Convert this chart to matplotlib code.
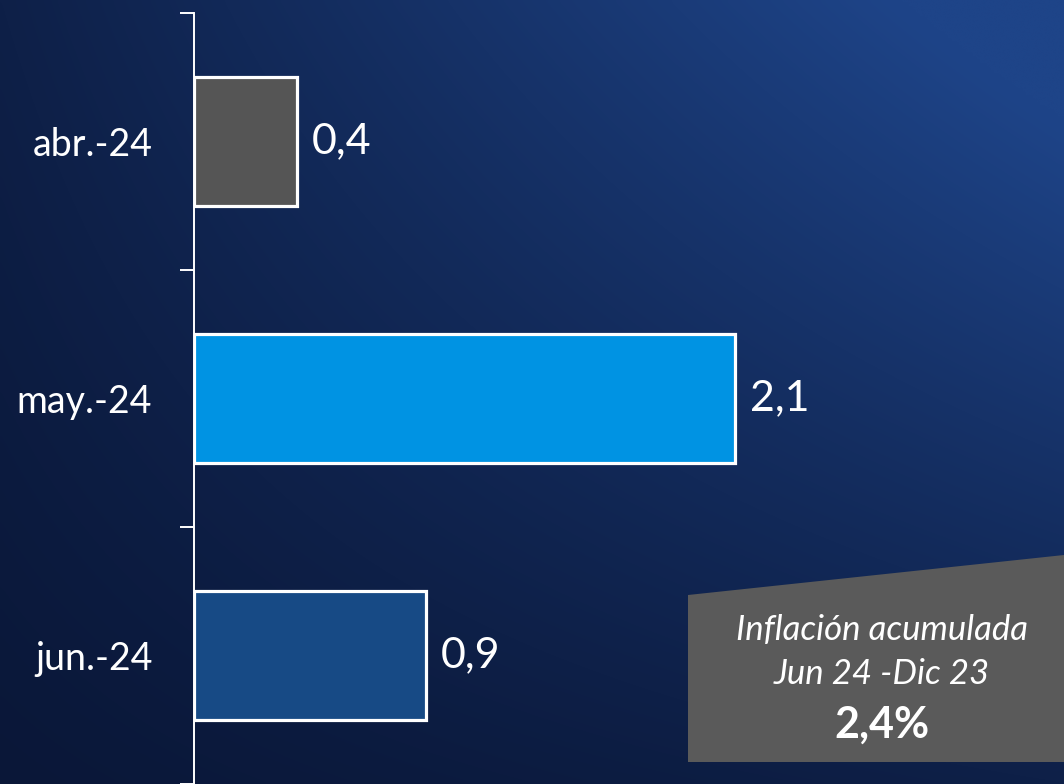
import numpy as np
import matplotlib.pyplot as plt
from matplotlib.patches import Polygon

# monthly inflation (%)
months = ['abr.-24', 'may.-24', 'jun.-24']
values = [0.4, 2.1, 0.9]
labels = ['0,4', '2,1', '0,9']
colors = ['#555555', '#0093e3', '#174a85']

box_lines = ['Inflación acumulada', 'Jun 24 -Dic 23']
box_total = '2,4%'

plt.rcParams['font.family'] = ['Lato', 'DejaVu Sans']

fig = plt.figure(figsize=(10.64, 7.84), dpi=100)

# background gradient
bg = fig.add_axes([0, 0, 1, 1])
bg.set_xlim(0, 1064)
bg.set_ylim(784, 0)
bg.axis('off')
gx, gy = np.meshgrid(np.linspace(0, 1, 300), np.linspace(0, 1, 220))
grad = 0.75 * gx * (1 - gy) + 0.2 * (1 - gy) + 0.2 * gx
c0 = np.array([0x0a, 0x17, 0x38]) / 255
c1 = np.array([0x1e, 0x44, 0x88]) / 255
img = c0 + (c1 - c0) * np.clip(grad, 0, 1)[..., None]
bg.imshow(img, extent=[0, 1064, 784, 0], aspect='auto', interpolation='bicubic')

# summary box
bg.add_patch(Polygon([[688, 595], [1064, 555], [1064, 762], [688, 762]],
                     closed=True, facecolor='#5a5a5a', edgecolor='none'))
bg.text(882, 630, box_lines[0], color='white', fontsize=25, style='italic',
        ha='center', va='center')
bg.text(882, 674, box_lines[1], color='white', fontsize=25, style='italic',
        ha='center', va='center')
bg.text(882, 725, box_total, color='white', fontsize=31, fontweight='bold',
        ha='center', va='center')

# bar chart
ax = fig.add_axes([194 / 1064, 0, 870 / 1064, 771 / 784])
ax.patch.set_alpha(0)
y = np.arange(len(months))
bars = ax.barh(y, values, height=0.5, color=colors, edgecolor='white', linewidth=2.3)
ax.set_xlim(0, 3.38)
ax.set_ylim(len(months) - 0.5, -0.5)

ax.set_yticks(y, months)
ax.set_yticks(np.arange(len(months) + 1) - 0.5, minor=True)
ax.tick_params(axis='y', which='major', length=0, pad=30, labelsize=27, labelcolor='white')
ax.tick_params(axis='y', which='minor', length=10, width=1.4, color='white')
ax.set_xticks([])

for s in ['top', 'right', 'bottom']:
    ax.spines[s].set_visible(False)
ax.spines['left'].set_color('white')
ax.spines['left'].set_linewidth(1.4)

for b, lab in zip(bars, labels):
    ax.annotate(lab, (b.get_width(), b.get_y() + b.get_height() / 2),
                xytext=(11, 0), textcoords='offset points',
                ha='left', va='center', color='white', fontsize=31)

fig.savefig('out.png', dpi=100)
